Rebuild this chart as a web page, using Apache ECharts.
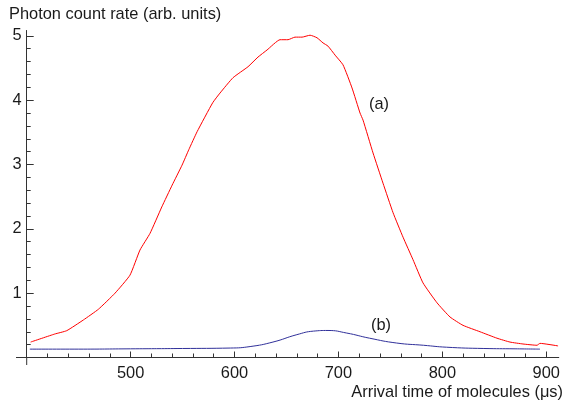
<!DOCTYPE html>
<html><head><meta charset="utf-8">
<script src="https://cdn.jsdelivr.net/npm/echarts@6/dist/echarts.min.js"></script>
<style>html,body{margin:0;padding:0;background:#fff}#c{width:566px;height:403px}</style>
</head><body><div id="c"></div>
<script>
// ---- data ----
const redX = [403.8, 427, 438.5, 454.5, 469, 485, 499.4, 509, 518.7, 530, 540, 549.5, 556, 564, 579, 586, 598.6, 613, 622.6, 631.3, 643.8, 651.5, 658.2, 665, 672.7, 679.4, 685.2, 690, 696.8, 704.4, 713.1, 720.8, 723.7, 733.3, 742.9, 752.6, 762.2, 771.8, 781.4, 794.9, 807.4, 819.9, 836.3, 852.6, 865.1, 877.6, 891.1, 894, 911.4];
const redY = [0.24, 0.365, 0.417, 0.583, 0.75, 1.0, 1.28, 1.67, 1.93, 2.34, 2.68, 2.99, 3.23, 3.51, 3.96, 4.11, 4.35, 4.52, 4.67, 4.78, 4.94, 4.94, 4.98, 4.98, 5.01, 4.97, 4.89, 4.84, 4.70, 4.55, 4.19, 3.80, 3.69, 3.18, 2.71, 2.25, 1.87, 1.52, 1.16, 0.85, 0.63, 0.50, 0.40, 0.30, 0.24, 0.21, 0.19, 0.22, 0.18];
const blueX = [403, 450, 500, 550, 596, 615, 637, 660, 676, 690, 708, 730, 756, 782, 804, 840, 870, 894];
const blueY = [0.13, 0.13, 0.135, 0.14, 0.147, 0.17, 0.24, 0.355, 0.41, 0.42, 0.38, 0.30, 0.225, 0.19, 0.16, 0.14, 0.135, 0.13];
const xTickLabels = [500, 600, 700, 800, 900];
const yTickLabels = [1, 2, 3, 4, 5];
const xTitle = 'Arrival time of molecules (\u03bcs)';
const yTitle = 'Photon count rate (arb. units)';
const curveLabels = ['(a)', '(b)'];
const curveLabelAnchors = [[739, 3.94], [741, 0.50]];

// ---- minor tick positions ----
const xMinor = [];
for (let v = 420; v < 912; v += 20) if (v % 100 !== 0) xMinor.push(v);
const yMinor = [];
for (let i = 1; i < 25; i++) if (i % 5 !== 0) yMinor.push(+(i * 0.2).toFixed(1));

const FONT = '"Liberation Sans", Arial, sans-serif';
const FS = 16.4;
const AX = '#333';
const TXT = '#1a1a1a';

const chart = echarts.init(document.getElementById('c'), null, {renderer: 'canvas'});

function xAxisDef(ticks, len, labels) {
  return {
    type: 'value', min: 400, max: 912, position: 'bottom',
    axisLine: {show: true, lineStyle: {color: AX, width: 1}},
    axisTick: {show: true, inside: true, length: len, customValues: ticks, lineStyle: {color: AX, width: 1}},
    axisLabel: labels ? {show: true, customValues: labels, margin: 8, color: TXT, fontSize: FS, fontFamily: FONT} : {show: false},
    splitLine: {show: false}
  };
}
function yAxisDef(ticks, len, labels) {
  return {
    type: 'value', min: 0, max: 5.08, position: 'left',
    axisLine: {show: true, lineStyle: {color: AX, width: 1}},
    axisTick: {show: true, inside: true, length: len, customValues: ticks, lineStyle: {color: AX, width: 1}},
    axisLabel: labels ? {show: true, customValues: labels, margin: 5, color: TXT, fontSize: FS, fontFamily: FONT} : {show: false},
    splitLine: {show: false}
  };
}

chart.setOption({
  animation: false,
  backgroundColor: '#fff',
  grid: {left: 26.7, right: 7.3, top: 30.7, bottom: 45.5, containLabel: false},
  title: [
    {text: yTitle, left: 9, top: 6, padding: 0, textStyle: {fontSize: FS, fontWeight: 'normal', color: TXT, fontFamily: FONT}},
    {text: xTitle, right: 3, top: 384, padding: 0, textStyle: {fontSize: FS, fontWeight: 'normal', color: TXT, fontFamily: FONT}}
  ],
  xAxis: [xAxisDef(xTickLabels, 6, xTickLabels), xAxisDef(xMinor, 4, null)],
  yAxis: [yAxisDef(yTickLabels, 7, yTickLabels), yAxisDef(yMinor, 4, null)],
  series: [
    {
      type: 'line', xAxisIndex: 0, yAxisIndex: 0, showSymbol: false, smooth: 0.15,
      data: redX.map((x, i) => [x, redY[i]]),
      lineStyle: {color: '#ff0000', width: 1}, itemStyle: {color: '#ff0000'},
      markPoint: {
        symbol: 'circle', symbolSize: 0, itemStyle: {color: 'transparent'},
        label: {show: true, position: 'inside', color: TXT, fontSize: FS, fontFamily: FONT, formatter: p => p.name},
        data: [{name: curveLabels[0], coord: curveLabelAnchors[0]}]
      }
    },
    {
      type: 'line', xAxisIndex: 0, yAxisIndex: 0, showSymbol: false, smooth: true,
      data: blueX.map((x, i) => [x, blueY[i]]),
      lineStyle: {color: '#30309a', width: 1}, itemStyle: {color: '#30309a'},
      markPoint: {
        symbol: 'circle', symbolSize: 0, itemStyle: {color: 'transparent'},
        label: {show: true, position: 'inside', color: TXT, fontSize: FS, fontFamily: FONT, formatter: p => p.name},
        data: [{name: curveLabels[1], coord: curveLabelAnchors[1]}]
      }
    }
  ]
});

// axis-line overhang past the crossing point (Mathematica style)
const o = chart.convertToPixel({gridIndex: 0}, [400, 0]);
chart.setOption({
  graphic: [
    {type: 'line', shape: {x1: o[0] - 10.7, y1: o[1], x2: o[0], y2: o[1]}, style: {stroke: AX, lineWidth: 1}},
    {type: 'line', shape: {x1: o[0], y1: o[1], x2: o[0], y2: o[1] + 7.5}, style: {stroke: AX, lineWidth: 1}}
  ]
});
</script>
</body></html>
